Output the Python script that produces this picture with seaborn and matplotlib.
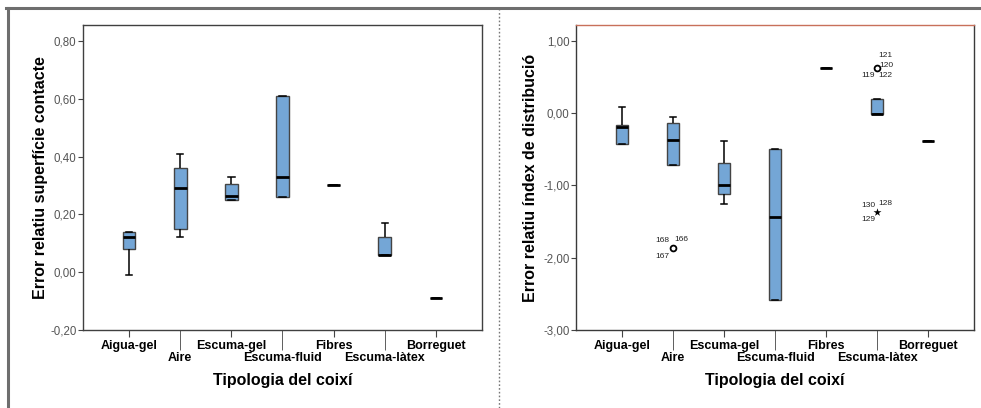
import pandas as pd
import seaborn as sns
import matplotlib.pyplot as plt
from matplotlib.lines import Line2D

plt.rcParams['font.family'] = ['Liberation Sans', 'DejaVu Sans']

# Tipologies de coixí
categories = ['Aigua-gel', 'Aire', 'Escuma-gel', 'Escuma-fluid', 'Fibres', 'Escuma-làtex', 'Borreguet']

# Error relatiu superfície contacte: mínim, Q1, mediana, Q3, màxim
sup_min = [-0.01, 0.12, 0.25, 0.26, 0.30, 0.06, -0.09]
sup_q1 = [0.08, 0.15, 0.25, 0.26, 0.30, 0.06, -0.09]
sup_med = [0.12, 0.29, 0.265, 0.33, 0.30, 0.06, -0.09]
sup_q3 = [0.14, 0.36, 0.305, 0.61, 0.30, 0.12, -0.09]
sup_max = [0.14, 0.41, 0.33, 0.61, 0.30, 0.17, -0.09]
sup_ticks = [-0.2, 0.0, 0.2, 0.4, 0.6, 0.8]

# Error relatiu índex de distribució
dist_min = [-0.43, -0.72, -1.25, -2.58, 0.63, -0.015, -0.385]
dist_q1 = [-0.43, -0.72, -1.12, -2.58, 0.63, -0.015, -0.385]
dist_med = [-0.19, -0.37, -1.00, -1.44, 0.63, -0.015, -0.385]
dist_q3 = [-0.16, -0.13, -0.685, -0.50, 0.63, 0.19, -0.385]
dist_max = [0.09, -0.05, -0.38, -0.50, 0.63, 0.19, -0.385]
dist_ticks = [-3, -2, -1, 0, 1]

# valors atípics (cercle) i extrems (estrella)
out_cat = ['Aire', 'Escuma-làtex']
out_val = [-1.87, 0.62]
out_ids = [['168', '166', '167'], ['121', '120', '119', '122']]
ext_cat = ['Escuma-làtex']
ext_val = [-1.37]
ext_ids = [['130', '128', '129']]


def long_df(mins, q1s, meds, q3s, maxs):
    rows = []
    for c, *vals in zip(categories, mins, q1s, meds, q3s, maxs):
        rows += [(c, v) for v in vals]
    return pd.DataFrame(rows, columns=['tipologia', 'valor'])


def fmt(v):
    return f'{v:.2f}'.replace('.', ',')


box_kw = dict(x='tipologia', y='valor', order=categories, width=0.25, whis=(0, 100),
              color='#74a6d6', saturation=1, linecolor='#444444', linewidth=1,
              showfliers=False,
              medianprops=dict(color='black', linewidth=2),
              whiskerprops=dict(color='black', linewidth=1.1),
              capprops=dict(color='black', linewidth=1.1))


def style_axes(ax, ticks, ylim, ylabel, spine_col, top_col, ylab_x):
    ax.set_xlim(-0.9, 6.9)
    ax.set_ylim(*ylim)
    ax.set_yticks(ticks, [fmt(t) for t in ticks])
    ax.tick_params(axis='y', length=3.6, pad=1, labelsize=8.3, labelcolor='#555555',
                   color='#444444')
    ax.set_xticks([0, 2, 4, 6], [categories[i] for i in (0, 2, 4, 6)])
    ax.set_xticks([1, 3, 5], [categories[i] for i in (1, 3, 5)], minor=True)
    ax.tick_params(axis='x', which='major', length=5, pad=2, labelsize=9, color='#444444')
    ax.tick_params(axis='x', which='minor', length=14.4, pad=1.5, labelsize=9,
                   color='#444444')
    for lbl in ax.get_xticklabels(which='both'):
        lbl.set_fontweight('bold')
    ax.set_xlabel('Tipologia del coixí', fontsize=11.5, fontweight='bold')
    ax.set_ylabel(ylabel, fontsize=11.5, fontweight='bold')
    ax.xaxis.set_label_coords(0.5, -0.141)
    ax.yaxis.set_label_coords(ylab_x, 0.5)
    for s in ax.spines.values():
        s.set_color(spine_col)
        s.set_linewidth(1)
    ax.spines['top'].set_color(top_col)


fig = plt.figure(figsize=(9.81, 4.08), dpi=100)

# panell esquerre
ax1 = fig.add_axes([0.0846, 0.1912, 0.4067, 0.7475])
sns.boxplot(data=long_df(sup_min, sup_q1, sup_med, sup_q3, sup_max), ax=ax1, **box_kw)
style_axes(ax1, sup_ticks, (-0.2, 0.855), 'Error relatiu superfície contacte',
           '#404040', '#404040', -0.088)

# panell dret
ax2 = fig.add_axes([0.5872, 0.1912, 0.4057, 0.7475])
sns.boxplot(data=long_df(dist_min, dist_q1, dist_med, dist_q3, dist_max), ax=ax2, **box_kw)
sns.stripplot(x=out_cat, y=out_val, order=categories, jitter=False, marker='o',
              color='white', edgecolor='black', linewidth=1.3, size=4.2, ax=ax2)
sns.stripplot(x=ext_cat, y=ext_val, order=categories, jitter=False, marker='*',
              color='black', size=6, ax=ax2)

out_offsets = [[(-7.5, 5.3), (5.8, 6.3), (-7.5, -5.8)],
               [(5.8, 9.6), (6.7, 1.9), (-6.5, -5.3), (6.3, -5.3)]]
ext_offsets = [[(-6.5, 4.8), (6.3, 6.0), (-6.5, -5.5)]]
for cats, vals, ids, offs in [(out_cat, out_val, out_ids, out_offsets),
                              (ext_cat, ext_val, ext_ids, ext_offsets)]:
    for c, v, labels, off in zip(cats, vals, ids, offs):
        for lab, (dx, dy) in zip(labels, off):
            ax2.annotate(lab, xy=(categories.index(c), v), xytext=(dx, dy),
                         textcoords='offset points', fontsize=6, ha='center',
                         va='center', color='#222222')

style_axes(ax2, dist_ticks, (-3.0, 1.22), 'Error relatiu índex de distribució',
           '#3a3a3a', '#c8705a', -0.095)

# marc i separador
fig.add_artist(Line2D([6 / 981, 1], [1 - 8 / 408, 1 - 8 / 408], color='#6e6e6e', lw=2.2))
fig.add_artist(Line2D([7.5 / 981, 7.5 / 981], [0, 1 - 8 / 408], color='#6e6e6e', lw=2.2))
fig.add_artist(Line2D([499 / 981, 499 / 981], [0, 1 - 10 / 408], color='#777777', lw=1,
                      linestyle=(0, (1.2, 1.5))))

fig.savefig('out.png', dpi=100)
